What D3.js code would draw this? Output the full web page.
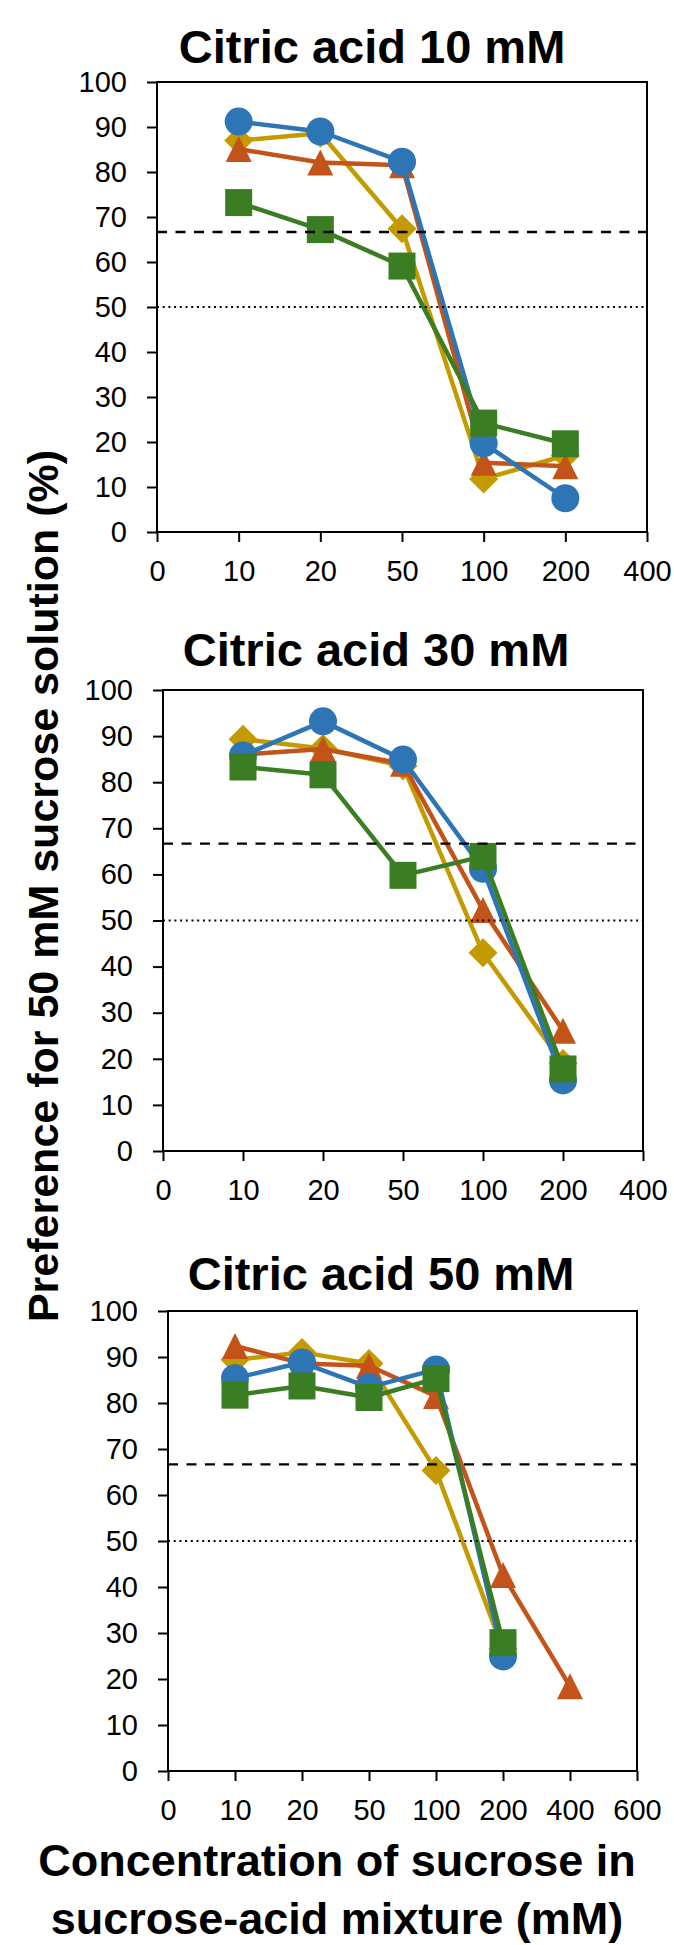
<!DOCTYPE html>
<html>
<head>
<meta charset="utf-8">
<script src="https://cdn.jsdelivr.net/npm/d3@7"></script>
<style>
  body { margin: 0; background: #fff; }
  svg { display: block; }
</style>
</head>
<body>
<div id="viz"></div>
<script>
// x categories (sucrose in the mixture, mM) - plotted as evenly spaced categories
var xTicksAB = ["0", "10", "20", "50", "100", "200", "400"];
var xTicksC = ["0", "10", "20", "50", "100", "200", "400", "600"];
var yTicks = [0, 10, 20, 30, 40, 50, 60, 70, 80, 90, 100];

var xPts = ["10", "20", "50", "100", "200"];
var xPtsLong = ["10", "20", "50", "100", "200", "400"];

// citric acid 10 mM
var a10Gold = [87.0, 88.6, 67.4, 11.8, 17.0];
var a10Orange = [85.1, 82.1, 81.5, 15.4, 14.6];
var a10Blue = [91.2, 89.0, 82.3, 19.7, 7.5];
var a10Green = [73.2, 67.2, 59.1, 24.2, 19.6];

// citric acid 30 mM
var a30Gold = [89.3, 87.3, 83.5, 43.0, 19.0];
var a30Orange = [86.0, 87.2, 84.0, 52.3, 26.1];
var a30Blue = [85.8, 93.2, 84.9, 61.2, 15.3];
var a30Green = [83.3, 81.6, 59.8, 63.9, 17.8];

// citric acid 50 mM
var a50Gold = [89.4, 91.0, 88.6, 65.3, 26.5];
var a50Orange = [92.4, 88.6, 88.1, 81.5, 42.6, 18.4];
var a50Blue = [85.4, 88.8, 83.4, 87.3, 24.9];
var a50Green = [81.7, 83.7, 81.2, 85.3, 27.9];

var refDashed = 66.67; // 2/3 preference
var refDotted = 50;

var titles = ["Citric acid 10 mM", "Citric acid 30 mM", "Citric acid 50 mM"];
var yTitle = "Preference for 50 mM sucrose solution (%)";
var xTitle = ["Concentration of sucrose in", "sucrose-acid mixture (mM)"];

var colors = { gold: "#C39A00", orange: "#C4531A", blue: "#2E75B6", green: "#3B7D23" };
var shapes = { gold: "diamond", orange: "triangle", blue: "circle", green: "square" };

// drawing order: gold, orange, blue, green
function buildSeries(xs, xsOrange, gold, orange, blue, green) {
  return [
    { key: "gold", x: xs, y: gold },
    { key: "orange", x: xsOrange, y: orange },
    { key: "blue", x: xs, y: blue },
    { key: "green", x: xs, y: green }
  ];
}

var panels = [
  { title: titles[0], cats: xTicksAB, series: buildSeries(xPts, xPts, a10Gold, a10Orange, a10Blue, a10Green),
    left: 157, right: 647, top: 82, bottom: 532, titleX: 372, titleY: 63 },
  { title: titles[1], cats: xTicksAB, series: buildSeries(xPts, xPts, a30Gold, a30Orange, a30Blue, a30Green),
    left: 163, right: 643, top: 690, bottom: 1151, titleX: 376, titleY: 666 },
  { title: titles[2], cats: xTicksC, series: buildSeries(xPts, xPtsLong, a50Gold, a50Orange, a50Blue, a50Green),
    left: 168, right: 637, top: 1311, bottom: 1771, titleX: 381, titleY: 1290 }
];

var W = 674, H = 1945;

var svg = d3.select("#viz").append("svg")
  .attr("width", W)
  .attr("height", H);

function markerPath(shape) {
  if (shape == "circle") {
    var r = 14;
    return "M" + (-r) + ",0A" + r + "," + r + " 0 1,0 " + r + ",0A" + r + "," + r + " 0 1,0 " + (-r) + ",0Z";
  }
  if (shape == "square") {
    var s = 13.5;
    return "M" + (-s) + "," + (-s) + "H" + s + "V" + s + "H" + (-s) + "Z";
  }
  if (shape == "triangle") {
    var w = 13, h = 13;
    return "M0," + (-h) + "L" + w + "," + h + "L" + (-w) + "," + h + "Z";
  }
  // diamond
  var d = 14.5;
  return "M0," + (-d) + "L" + d + ",0L0," + d + "L" + (-d) + ",0Z";
}

panels.forEach(function (p) {
  var xScale = d3.scalePoint().domain(p.cats).range([p.left, p.right]);
  var yScale = d3.scaleLinear().domain([0, 100]).range([p.bottom, p.top]);

  var g = svg.append("g");

  // title
  g.append("text")
    .attr("x", p.titleX)
    .attr("y", p.titleY)
    .attr("text-anchor", "middle")
    .style("font-family", "'Liberation Sans', Arial, sans-serif")
    .style("font-weight", "bold")
    .style("font-size", "47px")
    .text(p.title);

  // y axis
  var yAxis = d3.axisLeft(yScale).tickValues(yTicks).tickSize(10).tickSizeOuter(0).tickPadding(20);
  var ya = g.append("g")
    .attr("transform", "translate(" + p.left + ",0)")
    .call(yAxis);
  ya.select(".domain").remove();

  // x axis
  var xAxis = d3.axisBottom(xScale).tickSize(10).tickSizeOuter(0).tickPadding(18);
  var xa = g.append("g")
    .attr("transform", "translate(0," + p.bottom + ")")
    .call(xAxis);
  xa.select(".domain").remove();

  [ya, xa].forEach(function (a) {
    a.selectAll(".tick line").attr("stroke", "#000").attr("stroke-width", 2);
    a.selectAll(".tick text")
      .style("font-family", "'Liberation Sans', Arial, sans-serif")
      .style("font-size", "29px")
      .attr("fill", "#000");
  });

  // plot frame
  g.append("rect")
    .attr("x", p.left)
    .attr("y", p.top)
    .attr("width", p.right - p.left)
    .attr("height", p.bottom - p.top)
    .attr("fill", "none")
    .attr("stroke", "#000")
    .attr("stroke-width", 2);

  // series lines + markers
  p.series.forEach(function (s) {
    var pts = s.x.map(function (xv, i) { return { x: xv, y: s.y[i] }; });
    var line = d3.line()
      .x(function (d) { return xScale(d.x); })
      .y(function (d) { return yScale(d.y); });

    g.append("path")
      .datum(pts)
      .attr("d", line)
      .attr("fill", "none")
      .attr("stroke", colors[s.key])
      .attr("stroke-width", 4.5)
      .attr("stroke-linejoin", "round");

    g.selectAll("path.m-" + s.key)
      .data(pts)
      .enter()
      .append("path")
      .attr("class", "m-" + s.key)
      .attr("d", markerPath(shapes[s.key]))
      .attr("transform", function (d) {
        return "translate(" + xScale(d.x) + "," + yScale(d.y) + ")";
      })
      .attr("fill", colors[s.key]);
  });

  // reference lines
  g.append("line")
    .attr("x1", p.left).attr("x2", p.right)
    .attr("y1", yScale(refDashed)).attr("y2", yScale(refDashed))
    .attr("stroke", "#000")
    .attr("stroke-width", 2.3)
    .attr("stroke-dasharray", "10,8.5");

  g.append("line")
    .attr("x1", p.left).attr("x2", p.right)
    .attr("y1", yScale(refDotted)).attr("y2", yScale(refDotted))
    .attr("stroke", "#000")
    .attr("stroke-width", 1.8)
    .attr("stroke-dasharray", "2,3.7");
});

// y axis title
svg.append("text")
  .attr("transform", "translate(58,886) rotate(-90)")
  .attr("text-anchor", "middle")
  .style("font-family", "'Liberation Sans', Arial, sans-serif")
  .style("font-weight", "bold")
  .style("font-size", "43px")
  .text(yTitle);

// x axis title (two lines)
svg.selectAll("text.xtitle")
  .data(xTitle)
  .enter()
  .append("text")
  .attr("class", "xtitle")
  .attr("x", 337)
  .attr("y", function (d, i) { return 1876 + i * 58; })
  .attr("text-anchor", "middle")
  .style("font-family", "'Liberation Sans', Arial, sans-serif")
  .style("font-weight", "bold")
  .style("font-size", "45px")
  .text(function (d) { return d; });
</script>
</body>
</html>
